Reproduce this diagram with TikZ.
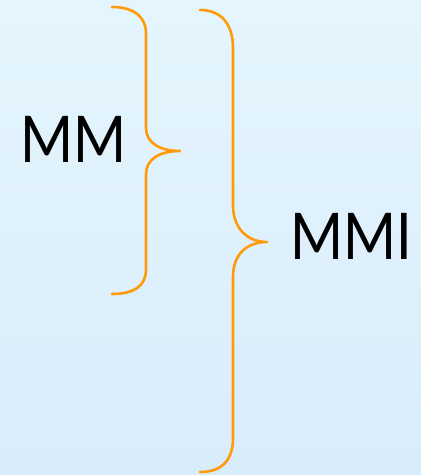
\documentclass[tikz,border=0pt]{standalone}
\usepackage{fontspec}
\setmainfont{Carlito}
\usepackage{tikz}
\usetikzlibrary{positioning}
\definecolor{braceorange}{RGB}{255,155,10}
\definecolor{skytop}{RGB}{228,245,253}
\definecolor{skybottom}{RGB}{217,236,250}
\newcommand{\tallword}[1]{\scalebox{1}[1.16]{#1}}

\begin{document}
\begin{tikzpicture}[x=1pt,y=-1pt,
    brace/.style={draw=braceorange,line width=2.6pt,line cap=round,line join=round},
    label/.style={font=\fontsize{62}{62}\selectfont,text=black,inner sep=0pt}]
      \shade [top color=skytop,bottom color=skybottom] (0,0) rectangle (421,475);
      \useasboundingbox (0,0) rectangle (421,475);
      % small brace
      \draw [brace] (112,7) .. controls (135,7) and (146,18) .. (146,33) -- (146,128)
          .. controls (146,143) and (160,151) .. (180,151) coordinate (mmtip)
          .. controls (160,151) and (146,159) .. (146,174) -- (146,270)
          .. controls (146,285) and (135,294) .. (112,294);
      % big brace
      \draw [brace] (200,10) .. controls (222,10) and (233,25) .. (233,48) -- (233,205)
          .. controls (233,228) and (247,242) .. (267,242) coordinate (mmitip)
          .. controls (247,242) and (233,254) .. (233,277) -- (233,438)
          .. controls (233,460) and (222,472) .. (200,472);
      \node [label,anchor=base east] (mm) at (127,162) {\tallword{MM}};
      \node [label,anchor=base west] (mmi) at (290,259) {\tallword{MMI}};
    \end{tikzpicture}
\end{document}
